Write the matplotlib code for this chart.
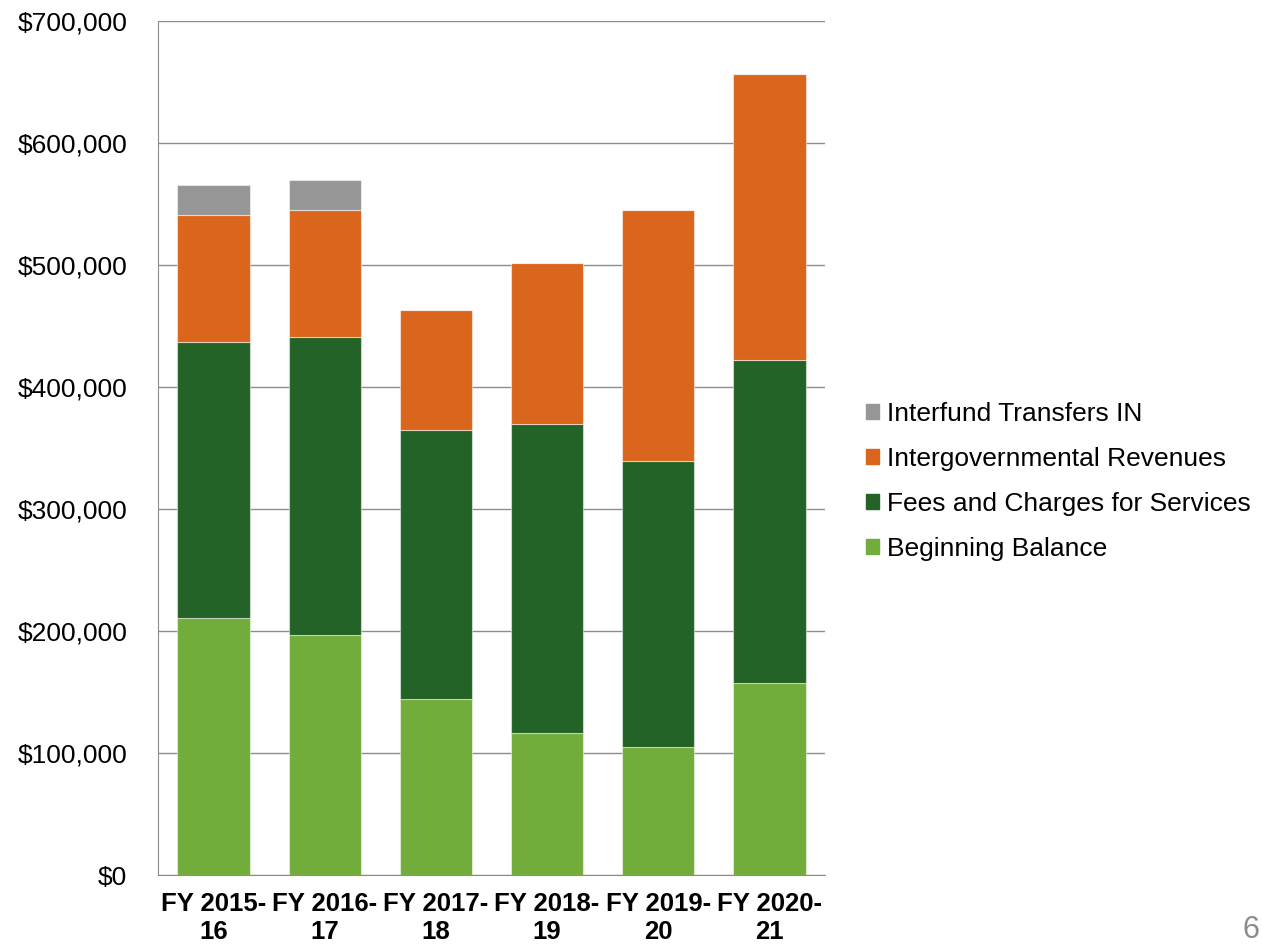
import matplotlib
matplotlib.use("Agg")
import matplotlib.pyplot as plt
import numpy as np
from matplotlib.ticker import FuncFormatter
from matplotlib.patches import Patch

# -------------------- DADOS --------------------
categorias = ["FY 2015-\n16", "FY 2016-\n17", "FY 2017-\n18",
              "FY 2018-\n19", "FY 2019-\n20", "FY 2020-\n21"]
beginning_balance = [211000, 197000, 144000, 116000, 105000, 157000]
fees_charges = [226000, 244000, 221000, 254000, 234000, 265000]
intergov = [104000, 104000, 98000, 132000, 206000, 235000]
interfund = [25000, 25000, 0, 0, 0, 0]

series = [
    ("Beginning Balance", beginning_balance, "#72AC3A"),
    ("Fees and Charges for Services", fees_charges, "#236328"),
    ("Intergovernmental Revenues", intergov, "#D9661C"),
    ("Interfund Transfers IN", interfund, "#969696"),
]

plt.rcParams['font.family'] = ['Liberation Sans', 'DejaVu Sans']

fig = plt.figure(figsize=(12.62, 9.48), dpi=100)
ax = fig.add_axes([0.1252, 0.077, 0.5285, 0.9008])

x = np.arange(len(categorias))
base = np.zeros(len(categorias))
for nome, vals, cor in series:
    vals = np.array(vals, dtype=float)
    ax.bar(x, vals, width=0.65, bottom=base, color=cor,
           edgecolor=(1, 1, 1, 0.5), linewidth=0.8, zorder=3)
    base += vals

ax.set_xlim(-0.5, len(categorias) - 0.5)
ax.set_ylim(0, 700000)
ax.set_yticks(np.arange(0, 700001, 100000))
ax.yaxis.set_major_formatter(FuncFormatter(lambda v, p: f"${v:,.0f}"))
ax.grid(axis="y", color="#8c8c8c", linewidth=1, zorder=0)
ax.tick_params(axis="y", length=0, labelsize=19, pad=22)
ax.tick_params(axis="x", length=0, pad=12)

ax.set_xticks(x)
ax.set_xticklabels(categorias, fontsize=18.5, fontweight="bold",
                   family=['Liberation Sans Narrow', 'Liberation Sans', 'DejaVu Sans'],
                   linespacing=1.25)

for lado in ["top", "right"]:
    ax.spines[lado].set_visible(False)
ax.spines["left"].set_color("#8c8c8c")
ax.spines["bottom"].set_color("#8c8c8c")

# legenda em ordem inversa
handles = [Patch(color=c, label=n) for n, v, c in reversed(series)]
fig.legend(handles=handles, loc="center left", bbox_to_anchor=(0.667, 0.492),
           frameon=False, fontsize=19, handlelength=0.5, handleheight=0.5,
           handletextpad=0.3, labelspacing=0.8)

fig.text(0.998, 0.019, "6", fontsize=22, color="#8c8c8c", ha="right", va="center")

fig.savefig("out.png", dpi=100)
